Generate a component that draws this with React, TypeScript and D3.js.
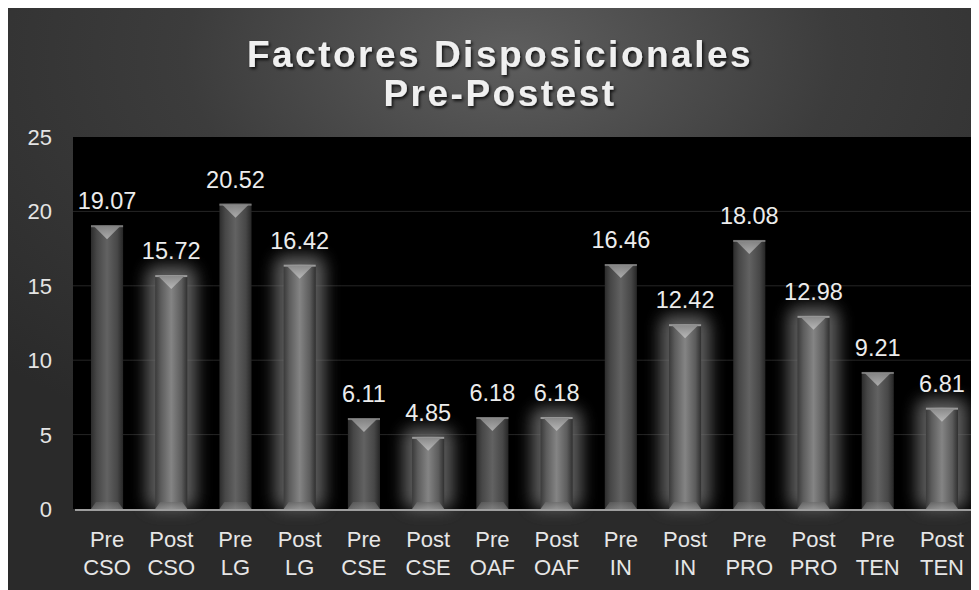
import React from "react";
import * as d3 from "d3";

const categories = [
  "Pre CSO", "Post CSO", "Pre LG", "Post LG", "Pre CSE", "Post CSE", "Pre OAF",
  "Post OAF", "Pre IN", "Post IN", "Pre PRO", "Post PRO", "Pre TEN", "Post TEN",
];
const values = [19.07, 15.72, 20.52, 16.42, 6.11, 4.85, 6.18, 6.18, 16.46, 12.42, 18.08, 12.98, 9.21, 6.81];
const yTicks = [0, 5, 10, 15, 20, 25];
const titleLines = ["Factores Disposicionales", "Pre-Postest"];

const W = 968;
const H = 582;
const plot = { left: 65, right: 968, top: 129, bottom: 501 };

export default function App() {
  const x = d3
    .scaleBand<string>()
    .domain(categories)
    .range([plot.left, plot.right])
    .paddingInner(0.5)
    .paddingOuter(0.28);
  const y = d3.scaleLinear().domain([0, 25]).range([plot.bottom, plot.top]);
  const bw = x.bandwidth();
  const font = "'Liberation Sans', Arial, sans-serif";

  return (
    <svg width={W} height={H} style={{ display: "block" }}>
      <defs>
        <radialGradient id="bg" cx="52%" cy="8%" r="75%" fx="52%" fy="8%">
          <stop offset="0%" stopColor="#5e5e5e" />
          <stop offset="45%" stopColor="#3c3c3c" />
          <stop offset="100%" stopColor="#2a2a2a" />
        </radialGradient>
        <linearGradient id="preGrad" x1="0" x2="1" y1="0" y2="0">
          <stop offset="0%" stopColor="#2c2c2c" />
          <stop offset="18%" stopColor="#474747" />
          <stop offset="50%" stopColor="#626262" />
          <stop offset="82%" stopColor="#474747" />
          <stop offset="100%" stopColor="#262626" />
        </linearGradient>
        <linearGradient id="postGrad" x1="0" x2="1" y1="0" y2="0">
          <stop offset="0%" stopColor="#3a3a3a" />
          <stop offset="18%" stopColor="#5c5c5c" />
          <stop offset="50%" stopColor="#848484" />
          <stop offset="82%" stopColor="#5c5c5c" />
          <stop offset="100%" stopColor="#303030" />
        </linearGradient>
        <linearGradient id="triGrad" x1="0" x2="0" y1="0" y2="1">
          <stop offset="0%" stopColor="#8a8a8a" />
          <stop offset="100%" stopColor="#b8b8b8" />
        </linearGradient>
        <linearGradient id="botGrad" x1="0" x2="0" y1="0" y2="1">
          <stop offset="0%" stopColor="#6a6a6a" />
          <stop offset="100%" stopColor="#9a9a9a" />
        </linearGradient>
        <filter id="glow" x="-100%" y="-50%" width="300%" height="200%">
          <feGaussianBlur stdDeviation="8" />
        </filter>
        <filter id="tshadow" x="-10%" y="-30%" width="120%" height="160%">
          <feDropShadow dx="1.5" dy="2" stdDeviation="1.5" floodColor="#000" floodOpacity="0.8" />
        </filter>
      </defs>

      <rect x={0} y={0} width={W} height={H} fill="url(#bg)" />
      <rect x={plot.left} y={plot.top} width={plot.right - plot.left} height={plot.bottom - plot.top} fill="#000" />

      {yTicks.slice(1, -1).map((t) => (
        <line key={t} x1={plot.left} x2={plot.right} y1={y(t)} y2={y(t)} stroke="#252525" strokeWidth={1} />
      ))}

      {/* glow for post bars */}
      {categories.map((c, i) =>
        c.startsWith("Post") ? (
          <rect
            key={"g" + c}
            x={(x(c) as number) - 9}
            y={y(values[i]) - 9}
            width={bw + 18}
            height={plot.bottom - y(values[i]) + 9}
            rx={10}
            fill="#707070"
            opacity={0.85}
            filter="url(#glow)"
          />
        ) : null
      )}

      {categories.map((c, i) => {
        const x0 = x(c) as number;
        const x1 = x0 + bw;
        const top = y(values[i]);
        const bot = y(0);
        const post = c.startsWith("Post");
        const cx = x0 + bw / 2;
        return (
          <g key={c}>
            <rect x={x0} y={top} width={bw} height={bot - top} fill={post ? "url(#postGrad)" : "url(#preGrad)"} />
            <rect x={x0} y={top} width={bw} height={2} fill={post ? "#9a9a9a" : "#777"} />
            <path d={`M${x0 + 3},${top + 1} L${x1 - 3},${top + 1} L${cx},${top + 14} Z`} fill="url(#triGrad)" opacity={post ? 1 : 0.85} />
            <path
              d={`M${x0},${bot} L${x1},${bot} L${x1 - 5},${bot - 7} L${x0 + 5},${bot - 7} Z`}
              fill="url(#botGrad)"
              opacity={post ? 0.7 : 0.5}
            />
            <text x={cx} y={top - 16} textAnchor="middle" fontFamily={font} fontSize={23.5} fill="#ececec">
              {values[i].toFixed(2)}
            </text>
          </g>
        );
      })}

      <rect x={plot.left + 2} y={plot.bottom} width={plot.right - plot.left - 2} height={2} fill="#9e9e9e" />

      {yTicks.map((t) => (
        <text key={t} x={44} y={y(t)} dy="0.36em" textAnchor="end" fontFamily={font} fontSize={22} fill="#e4e4e4">
          {t}
        </text>
      ))}

      {categories.map((c) => {
        const [a, b] = c.split(" ");
        const cx = (x(c) as number) + bw / 2;
        return (
          <text key={"l" + c} textAnchor="middle" fontFamily={font} fontSize={22} fill="#e6e6e6">
            <tspan x={cx} y={538.5}>{a}</tspan>
            <tspan x={cx} y={567}>{b}</tspan>
          </text>
        );
      })}

      {titleLines.map((t, i) => (
        <text
          key={t}
          x={492}
          y={59 + i * 39}
          textAnchor="middle"
          fontFamily={font}
          fontWeight="bold"
          fontSize={37}
          letterSpacing={2.5}
          fill="#f0f0f0"
          filter="url(#tshadow)"
        >
          {t}
        </text>
      ))}
    </svg>
  );
}
